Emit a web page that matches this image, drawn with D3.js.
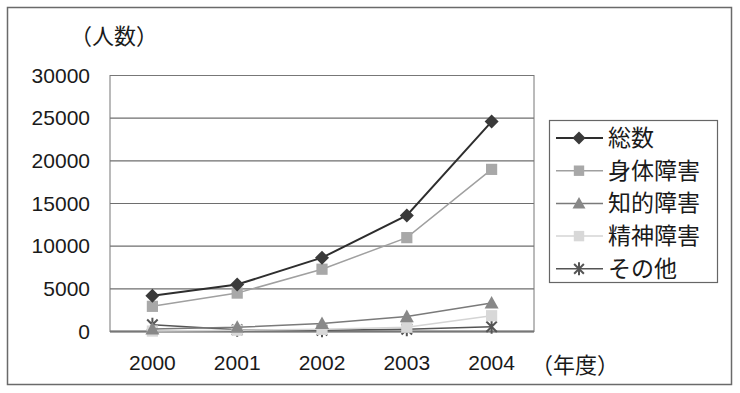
<!DOCTYPE html>
<html><head><meta charset="utf-8">
<script src="https://cdn.jsdelivr.net/npm/d3@7"></script>
<style>
html,body{margin:0;padding:0;background:#fff;}
svg{display:block;}
</style></head><body>
<script>
const years = ["2000","2001","2002","2003","2004"];
const seriesNames = ["総数","身体障害","知的障害","精神障害","その他"];
const total    = [4200, 5500, 8650, 13600, 24600];
const physical = [2950, 4500, 7300, 11000, 19000];
const intellectual = [300, 500, 950, 1750, 3350];
const mental   = [50, 150, 250, 500, 1850];
const other    = [800, 200, 150, 270, 550];
const yTicks = [0, 5000, 10000, 15000, 20000, 25000, 30000];
const yAxisTitle = "（人数）";
const xAxisTitle = "（年度）";

const seriesValues = [total, physical, intellectual, mental, other];
const styles = [
  {line:"#2e2e2e", fill:"#3a3a3a", w:2, shape:"diamond"},
  {line:"#a0a0a0", fill:"#a8a8a8", w:1.5, shape:"square"},
  {line:"#7a7a7a", fill:"#888888", w:1.5, shape:"triangle"},
  {line:"#d4d4d4", fill:"#d8d8d8", w:1.5, shape:"square"},
  {line:"#555555", fill:"#555555", w:1.5, shape:"star"}
];

const W = 740, H = 393;
const svg = d3.select("body").append("svg").attr("width", W).attr("height", H);
const jp = "'Noto Sans CJK JP', sans-serif";
const num = "'Liberation Sans', Arial, sans-serif";

// outer frame
svg.append("rect").attr("x", 7.5).attr("y", 7.5).attr("width", 724).attr("height", 377)
  .attr("fill", "none").attr("stroke", "#6a6a6a").attr("stroke-width", 1.5);

const plot = {left: 110, right: 534, top: 75.5, bottom: 331.5};
const x = d3.scaleBand().domain(years).range([plot.left, plot.right]);
const y = d3.scaleLinear().domain([0, 30000]).range([plot.bottom, plot.top]);

// gridlines
svg.append("g").selectAll("line").data(yTicks).join("line")
  .attr("x1", plot.left).attr("x2", plot.right)
  .attr("y1", d => y(d)).attr("y2", d => y(d))
  .attr("stroke", d => d === 0 ? "#555" : "#6e6e6e").attr("stroke-width", d => d === 0 ? 2 : 1.2);

// plot border
svg.append("rect").attr("x", plot.left).attr("y", plot.top)
  .attr("width", plot.right - plot.left).attr("height", plot.bottom - plot.top)
  .attr("fill", "none").attr("stroke", "#777").attr("stroke-width", 1);

// y axis
const yAxis = d3.axisLeft(y).tickValues(yTicks).tickSize(0).tickPadding(20).tickFormat(d => String(d));
const yg = svg.append("g").attr("transform", `translate(${plot.left},0)`).call(yAxis);
yg.select(".domain").remove();
yg.selectAll("text").attr("font-family", num).attr("font-size", 21).attr("fill", "#1a1a1a");

// x axis
const xAxis = d3.axisBottom(x).tickSize(0).tickPadding(24);
const xg = svg.append("g").attr("transform", `translate(0,${plot.bottom})`).call(xAxis);
xg.select(".domain").remove();
xg.selectAll("text").attr("font-family", num).attr("font-size", 21).attr("fill", "#1a1a1a");

svg.append("text").attr("x", 531).attr("y", 373).text(xAxisTitle)
  .attr("font-family", jp).attr("font-size", 22).attr("fill", "#1a1a1a");
svg.append("text").attr("x", 70).attr("y", 44).text(yAxisTitle)
  .attr("font-family", jp).attr("font-size", 22).attr("fill", "#1a1a1a");

function marker(g, shape, cx, cy, st, s) {
  if (shape === "diamond") {
    g.append("path").attr("d", `M${cx},${cy-s}L${cx+s},${cy}L${cx},${cy+s}L${cx-s},${cy}Z`).attr("fill", st.fill);
  } else if (shape === "square") {
    g.append("rect").attr("x", cx - s*0.8).attr("y", cy - s*0.8).attr("width", s*1.6).attr("height", s*1.6).attr("fill", st.fill);
  } else if (shape === "triangle") {
    g.append("path").attr("d", `M${cx},${cy-s}L${cx+s},${cy+s*0.8}L${cx-s},${cy+s*0.8}Z`).attr("fill", st.fill);
  } else {
    const r = s;
    g.append("path").attr("d",
      `M${cx-r*0.75},${cy-r*0.75}L${cx+r*0.75},${cy+r*0.75}M${cx+r*0.75},${cy-r*0.75}L${cx-r*0.75},${cy+r*0.75}M${cx},${cy-r}L${cx},${cy+r}`)
      .attr("stroke", st.fill).attr("stroke-width", 2).attr("fill", "none");
  }
}

const line = d3.line().x((d, i) => x(years[i]) + x.bandwidth()/2).y(d => y(d));
for (let k = seriesValues.length - 1; k >= 0; k--) {
  const vals = seriesValues[k], st = styles[k];
  const g = svg.append("g");
  g.append("path").datum(vals).attr("d", line).attr("fill", "none")
    .attr("stroke", st.line).attr("stroke-width", st.w);
  vals.forEach((v, i) => marker(g, st.shape, x(years[i]) + x.bandwidth()/2, y(v), st, 7));
}

// legend
const lg = svg.append("g");
lg.append("rect").attr("x", 549.5).attr("y", 120.5).attr("width", 168).attr("height", 162)
  .attr("fill", "#fff").attr("stroke", "#666").attr("stroke-width", 1.2);
seriesNames.forEach((name, i) => {
  const cy = 138 + i * 32.7;
  const st = styles[i];
  lg.append("line").attr("x1", 556).attr("x2", 603).attr("y1", cy).attr("y2", cy)
    .attr("stroke", st.line).attr("stroke-width", st.w);
  marker(lg, st.shape, 579, cy, st, 6.5);
  lg.append("text").attr("x", 608).attr("y", cy + 8).text(name)
    .attr("font-family", jp).attr("font-size", 23).attr("fill", "#1a1a1a");
});
</script>
</body></html>
